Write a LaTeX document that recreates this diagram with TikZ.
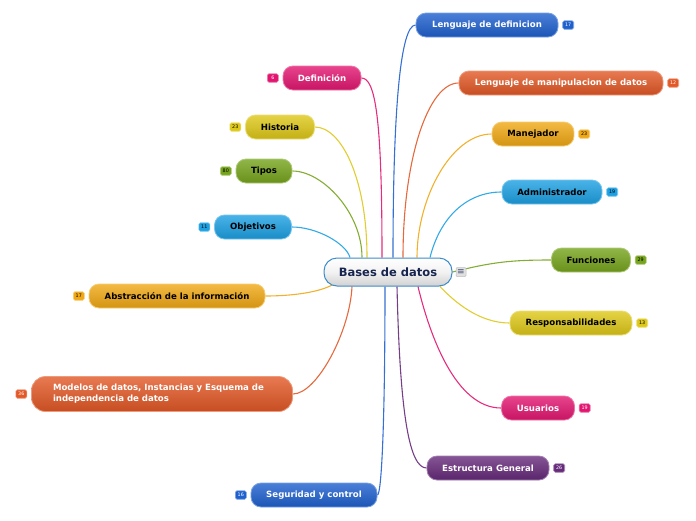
\documentclass[tikz,border=0pt]{standalone}
\usepackage{fontspec}
\setmainfont{DejaVu Sans}
\usetikzlibrary{positioning}
\definecolor{topicpink}{RGB}{226,22,112}
\definecolor{topicyellow}{RGB}{222,200,24}
\definecolor{topicgreen}{RGB}{118,164,28}
\definecolor{topiccyan}{RGB}{28,160,226}
\definecolor{topicorange}{RGB}{240,168,20}
\definecolor{topicred}{RGB}{226,88,38}
\definecolor{topicblue}{RGB}{30,96,206}
\definecolor{topicpurple}{RGB}{102,42,122}
\definecolor{rootblue}{RGB}{62,140,200}
\definecolor{rootnavy}{RGB}{22,36,78}
\pgfdeclarelayer{background}
\pgfsetlayers{background,main}
\tikzset{
  root/.style={rounded corners=13pt, minimum width=128pt, minimum height=28pt,
    top color=white, bottom color=black!18, middle color=black!5, draw=rootblue,
    line width=1pt, text=rootnavy, font=\bfseries\fontsize{11.5}{13}\selectfont},
  topic/.style={rounded corners=10pt, minimum height=24pt, inner sep=0pt,
    top color=#1!80!white, middle color=#1, bottom color=#1!88!black,
    draw=#1!60!white, line width=0.8pt, font=\bfseries\fontsize{8.6}{11}\selectfont},
  badge/.style={rounded corners=1.5pt, fill=#1, draw=#1!55!white, line width=0.6pt,
    minimum width=11pt, minimum height=8.5pt, inner sep=1pt,
    font=\fontsize{4.8}{5}\selectfont},
  conn/.style={draw=#1!90!white, line width=1.1pt}
}
\begin{document}
\begin{tikzpicture}[x=1pt, y=-1pt]
    \useasboundingbox (0,0) rectangle (696,520);

    % Central topic
    \node[root] (root) at (388,272) {Bases de datos};
    \node[rounded corners=1pt, fill=black!12, draw=black!25, line width=0.5pt,
      minimum width=10pt, minimum height=9pt, inner sep=0pt, text=rootnavy!80,
      font=\fontsize{9}{9}\selectfont] (menu) at (461,272) {≡};

    % Left branches
    \node[topic=topicpink, text=white, minimum width=78pt] (def) at (322,78) {Definición};
    \node[badge=topicpink, text=white, left=4pt of def] (defcount) {6};
    \node[topic=topicyellow, minimum width=69pt] (hist) at (280,127) {Historia};
    \node[badge=topicyellow, left=4pt of hist] (histcount) {23};
    \node[topic=topicgreen, minimum width=56pt] (tipos) at (264,171) {Tipos};
    \node[badge=topicgreen, left=4pt of tipos] (tiposcount) {80};
    \node[topic=topiccyan, minimum width=77pt] (obj) at (253,227) {Objetivos};
    \node[badge=topiccyan, left=4pt of obj] (objcount) {11};
    \node[topic=topicorange, minimum width=176pt] (abst) at (177,296) {Abstracción de la información};
    \node[badge=topicorange, left=4pt of abst] (abstcount) {17};
    \node[topic=topicred, text=white, minimum width=261pt, minimum height=35pt,
      rounded corners=14pt, text width=218pt, align=left] (mod) at (162,394)
      {Modelos de datos, Instancias y Esquema de\\independencia de datos};
    \node[badge=topicred, text=white, left=4pt of mod] (modcount) {36};
    \node[topic=topicblue, text=white, minimum width=126pt] (seg) at (314,495) {Seguridad y control};
    \node[badge=topicblue, text=white, left=4pt of seg] (segcount) {16};

    % Right branches
    \node[topic=topicblue, text=white, minimum width=142pt] (ldef) at (487,25) {Lenguaje de definicion};
    \node[badge=topicblue, text=white, right=4pt of ldef] (ldefcount) {17};
    \node[topic=topicred, text=white, minimum width=204pt] (lman) at (561,83) {Lenguaje de manipulacion de datos};
    \node[badge=topicred, text=white, right=4pt of lman] (lmancount) {12};
    \node[topic=topicorange, minimum width=82pt] (manej) at (533,134) {Manejador};
    \node[badge=topicorange, right=4pt of manej] (manejcount) {23};
    \node[topic=topiccyan, minimum width=100pt] (admin) at (552,192) {Administrador};
    \node[badge=topiccyan, right=4pt of admin] (admincount) {19};
    \node[topic=topicgreen, minimum width=79pt] (func) at (591,260) {Funciones};
    \node[badge=topicgreen, right=4pt of func] (funccount) {29};
    \node[topic=topicyellow, minimum width=122pt] (resp) at (571,323) {Responsabilidades};
    \node[badge=topicyellow, right=4pt of resp] (respcount) {13};
    \node[topic=topicpink, text=white, minimum width=73pt] (usu) at (538,408) {Usuarios};
    \node[badge=topicpink, text=white, right=4pt of usu] (usucount) {19};
    \node[topic=topicpurple, text=white, minimum width=122pt] (estr) at (488,468) {Estructura General};
    \node[badge=topicpurple, text=white, right=4pt of estr] (estrcount) {26};

    % Connectors
    \begin{pgfonlayer}{background}
    \draw[conn=topicpink] ([xshift=-6pt]root.north) .. controls +(0,-140) and +(14,0) .. (def.east);
    \draw[conn=topicyellow] ([xshift=-21pt]root.north) .. controls +(0,-80) and +(26,0) .. (hist.east);
    \draw[conn=topicgreen] ([xshift=-26pt]root.north) .. controls +(0,-45) and +(30,0) .. (tipos.east);
    \draw[conn=topiccyan] ([xshift=-38pt]root.north) .. controls +(-4,-14) and +(25,0) .. (obj.east);
    \draw[conn=topicorange] ([xshift=-55pt,yshift=2pt]root.south) .. controls +(-14,8) and +(26,0) .. (abst.east);
    \draw[conn=topicred] ([xshift=-36pt]root.south) .. controls +(-2,45) and +(24,0) .. (mod.east);
    \draw[conn=topicblue] ([xshift=-3pt]root.south) .. controls +(0,140) and +(4,0) .. (seg.east);
    \draw[conn=topicblue] ([xshift=5pt]root.north) .. controls +(0,-150) and +(-15,0) .. (ldef.west);
    \draw[conn=topicred] ([xshift=15pt]root.north) .. controls +(0,-100) and +(-30,0) .. (lman.west);
    \draw[conn=topicorange] ([xshift=29pt]root.north) .. controls +(0,-60) and +(-40,0) .. (manej.west);
    \draw[conn=topiccyan] ([xshift=42pt]root.north) .. controls +(10,-40) and +(-35,0) .. (admin.west);
    \draw[conn=topicgreen] (root.east) .. controls +(40,-10) and +(-40,0) .. (func.west);
    \draw[conn=topicyellow] ([xshift=52pt]root.south) .. controls +(15,16) and +(-30,0) .. (resp.west);
    \draw[conn=topicpink] ([xshift=30pt]root.south) .. controls +(12,50) and +(-45,0) .. (usu.west);
    \draw[conn=topicpurple] ([xshift=9pt]root.south) .. controls +(3,130) and +(-17,0) .. (estr.west);
    \end{pgfonlayer}
\end{tikzpicture}
\end{document}
